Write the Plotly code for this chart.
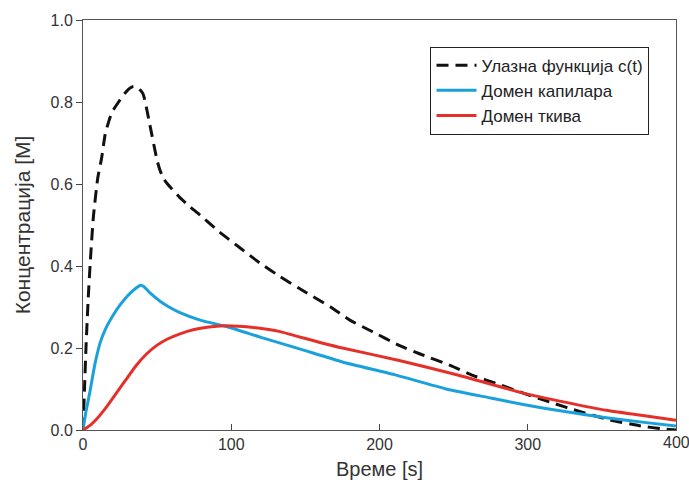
import plotly.graph_objects as go

# Input function c(t)
t_in = [0, 1, 2, 3.5, 5, 7, 10, 12.5, 15, 18, 20, 24, 28, 31, 34, 37, 40.5, 45, 50, 52, 54.5, 57, 60, 65,
        72, 79, 92, 106, 119, 133, 146, 167, 180, 194, 214, 227, 248, 263, 280, 297, 315, 335, 355, 376, 390, 400]
c_in = [0, 0.1, 0.2, 0.32, 0.415, 0.52, 0.616, 0.662, 0.722, 0.76, 0.778, 0.80, 0.82, 0.832, 0.838, 0.835, 0.82,
        0.746, 0.657, 0.633, 0.612, 0.6, 0.588, 0.568, 0.545, 0.524, 0.483, 0.444, 0.408, 0.374, 0.345, 0.30,
        0.268, 0.242, 0.205, 0.186, 0.157, 0.133, 0.112, 0.09, 0.068, 0.045, 0.025, 0.01, 0.003, 0.0]

# Capillary domain
t_cap = [0, 2, 4.7, 8, 11.5, 15, 20, 25, 30, 35, 39, 41, 45, 52, 58, 65, 79, 99, 120, 146, 175, 210,
         245, 275, 297, 325, 353, 380, 400]
c_cap = [0, 0.045, 0.094, 0.16, 0.212, 0.245, 0.278, 0.305, 0.327, 0.344, 0.353, 0.35, 0.335, 0.314, 0.3,
         0.287, 0.268, 0.25, 0.226, 0.198, 0.166, 0.135, 0.10, 0.078, 0.062, 0.045, 0.03, 0.018, 0.01]

# Tissue domain
t_tis = [0, 5, 10, 15, 20, 25, 30, 36, 43, 50, 57, 65, 75, 85, 95, 105, 115, 133, 146, 175, 214, 254,
         297, 325, 353, 380, 400]
c_tis = [0, 0.012, 0.03, 0.052, 0.077, 0.103, 0.128, 0.158, 0.186, 0.207, 0.222, 0.234, 0.245, 0.251,
         0.254, 0.253, 0.25, 0.24, 0.227, 0.2, 0.169, 0.133, 0.09, 0.068, 0.048, 0.034, 0.024]

names = ["Улазна функција c(t)", "Домен капилара", "Домен ткива"]

x_ticks = [0, 100, 200, 300, 400]
x_ticklabels = ["0", "100", "200", "300", "400"]
y_ticks = [0, 0.2, 0.4, 0.6, 0.8, 1.0]

fig = go.Figure()
fig.add_trace(go.Scatter(x=t_in, y=c_in, mode="lines", name=names[0],
                         line=dict(color="#111111", width=3, dash="12px,7px",
                                   shape="spline", smoothing=0.5)))
fig.add_trace(go.Scatter(x=t_cap, y=c_cap, mode="lines", name=names[1],
                         line=dict(color="#1aa1db", width=3, shape="spline", smoothing=0.5)))
fig.add_trace(go.Scatter(x=t_tis, y=c_tis, mode="lines", name=names[2],
                         line=dict(color="#e5302a", width=3, shape="spline", smoothing=0.5)))

font_family = "Liberation Sans, Arial, sans-serif"

# last tick label drawn as annotation so it stays centred on its tick
shown_labels = x_ticklabels[:-1] + [""]
fig.add_annotation(x=x_ticks[-1], y=0, xref="x", yref="paper", text=x_ticklabels[-1],
                   showarrow=False, xanchor="center", yanchor="top", yshift=-2,
                   font=dict(size=16, color="#333333", family=font_family))

fig.update_layout(
    width=689, height=488,
    margin=dict(l=83, r=13, t=18, b=56),
    paper_bgcolor="white", plot_bgcolor="white",
    font=dict(family=font_family, color="#333333", size=16),
    showlegend=True,
    legend=dict(x=0.586, y=0.935, xanchor="left", yanchor="top",
                bordercolor="#222222", borderwidth=1, bgcolor="white",
                font=dict(size=17, color="#222222"), tracegroupgap=0,
                itemwidth=40),
    xaxis=dict(range=[0, 400], tickvals=x_ticks, ticktext=shown_labels,
               ticks="inside", ticklen=6, tickcolor="#444444",
               showline=True, linecolor="#555555", linewidth=1, mirror=True,
               showgrid=False, zeroline=False,
               title=dict(text="Време [s]", font=dict(size=20), standoff=9)),
    yaxis=dict(range=[0, 1.0], tickvals=y_ticks,
               tickformat=".1f",
               ticks="outside", ticklen=6, tickcolor="#444444",
               ticklabeloverflow="allow",
               showline=True, linecolor="#555555", linewidth=1, mirror=True,
               showgrid=False, zeroline=False,
               title=dict(text="Концентрација [M]", font=dict(size=21), standoff=14)),
)

fig.write_html("out.html")
